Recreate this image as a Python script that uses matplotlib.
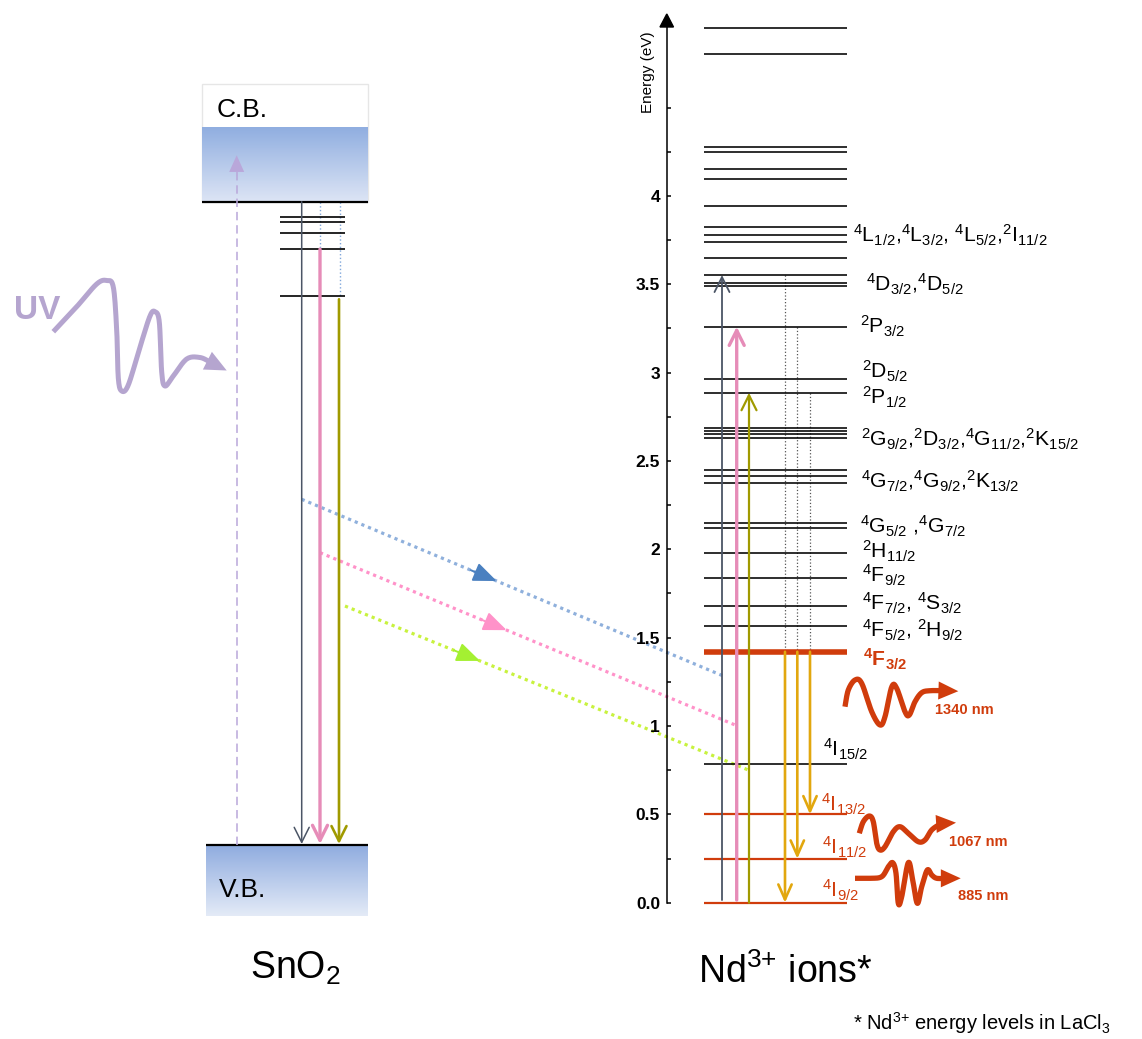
import numpy as np
import matplotlib
matplotlib.use('Agg')
import matplotlib.pyplot as plt
from matplotlib.patches import Rectangle, Polygon
from matplotlib.colors import to_rgb

plt.rcParams['font.family'] = ['Liberation Sans', 'DejaVu Sans']
plt.rcParams['mathtext.fontset'] = 'custom'
plt.rcParams['mathtext.rm'] = 'Liberation Sans'
plt.rcParams['mathtext.it'] = 'Liberation Sans:italic'
plt.rcParams['mathtext.bf'] = 'Liberation Sans:bold'

# ------------------------------------------------------------------ data
# Nd3+ energy levels (eV)
nd_levels = [4.952, 4.801, 4.279, 4.250, 4.154, 4.094, 3.945, 3.826, 3.779,
             3.741, 3.647, 3.552, 3.509, 3.490, 3.260, 2.962, 2.886, 2.688,
             2.671, 2.652, 2.628, 2.450, 2.413, 2.375, 2.147, 2.119, 1.977,
             1.839, 1.681, 1.566, 1.420, 0.787, 0.500, 0.249, 0.000]
nd_metastable = 1.420               # 4F3/2
nd_ground_levels = [0.500, 0.249, 0.000]   # 4I13/2, 4I11/2, 4I9/2
excite_tops = [3.552, 3.260, 2.886]        # excitation targets
excite_bottom = [0.015, 0.015, 0.000]
emit_bottoms = [0.000, 0.249, 0.500]        # emission end levels

nd_labels = [
    r"$^4$L$_{1/2}$,$^4$L$_{3/2}$, $^4$L$_{5/2}$,$^2$I$_{11/2}$",
    r"$^4$D$_{3/2}$,$^4$D$_{5/2}$",
    r"$^2$P$_{3/2}$",
    r"$^2$D$_{5/2}$",
    r"$^2$P$_{1/2}$",
    r"$^2$G$_{9/2}$,$^2$D$_{3/2}$,$^4$G$_{11/2}$,$^2$K$_{15/2}$",
    r"$^4$G$_{7/2}$,$^4$G$_{9/2}$,$^2$K$_{13/2}$",
    r"$^4$G$_{5/2}$ ,$^4$G$_{7/2}$",
    r"$^2$H$_{11/2}$",
    r"$^4$F$_{9/2}$",
    r"$^4$F$_{7/2}$, $^4$S$_{3/2}$",
    r"$^4$F$_{5/2}$, $^2$H$_{9/2}$",
    r"$\mathbf{^4F_{3/2}}$",
    r"$^4$I$_{15/2}$",
    r"$^4$I$_{13/2}$",
    r"$^4$I$_{11/2}$",
    r"$^4$I$_{9/2}$",
]
nd_label_colors = ['k'] * 12 + ['red'] + ['k'] + ['red'] * 3

# SnO2 band scheme (eV, same scale)
sno2_cb = 3.967
sno2_vb = 0.327
sno2_defects = [3.882, 3.854, 3.788, 3.699, 3.435]
uv_top = 4.23

# SnO2 -> Nd3+ energy transfer (start on SnO2, end on Nd3+ excitation arrows)
transfer_start = [2.283, 1.981, 1.679]
transfer_end = [1.279, 1.006, 0.751]

emission_labels = ['1340 nm', '1067 nm', '885 nm']

energy_ticks = [0.0, 0.5, 1.0, 1.5, 2.0, 2.5, 3.0, 3.5, 4.0, 4.5]
energy_tick_labels = ['0.0', '0.5', '1', '1.5', '2', '2.5', '3', '3.5', '4', '']
energy_minor = [0.25, 0.75, 1.25, 1.75, 2.25, 2.75, 3.25, 3.75, 4.25]

# ------------------------------------------------------------------ layout
W, H = 1142, 1039
PX0, PPE = 902.7, 176.7          # pixel row of 0 eV, pixels per eV


def E(ypx):
    return (PX0 - np.asarray(ypx, float)) / PPE


RED = '#d03c0c'
SLATE = '#4b5566'
PINK = '#e68cb8'
OLIVE = '#a09a00'
GOLD = '#e2a70e'
LAV = '#b5a5cf'

fig = plt.figure(figsize=(W / 100, H / 100), dpi=100)
ax = fig.add_axes([0, 0, 1, 1])
ax.set_xlim(0, W)
ax.set_ylim(E(H), E(0))
ax.axis('off')


def vgrad(x0, x1, ybot, ytop, ctop, cbot):
    t = np.linspace(0, 1, 256)[:, None]
    img = (np.array(to_rgb(ctop)) * (1 - t) + np.array(to_rgb(cbot)) * t)[:, None, :]
    ax.imshow(img, extent=(x0, x1, ybot, ytop), aspect='auto', origin='upper',
              zorder=0, interpolation='bilinear')


def varrow(x, y0, y1, color, lw, hl=0.9, hw=0.45, ms=12, z=4):
    ax.annotate('', xy=(x, y1), xytext=(x, y0),
                arrowprops=dict(arrowstyle=f'->,head_length={hl},head_width={hw}',
                                mutation_scale=ms, color=color, lw=lw,
                                shrinkA=0, shrinkB=0), zorder=z)


def smooth(pts, n=14):
    P = np.array(pts, float)
    P = np.vstack([P[0], P, P[-1]])
    out = []
    for i in range(1, len(P) - 2):
        p0, p1, p2, p3 = P[i - 1], P[i], P[i + 1], P[i + 2]
        t = np.linspace(0, 1, n, endpoint=False)[:, None]
        seg = 0.5 * ((2 * p1) + (-p0 + p2) * t + (2 * p0 - 5 * p1 + 4 * p2 - p3) * t ** 2
                     + (-p0 + 3 * p1 - 3 * p2 + p3) * t ** 3)
        out.append(seg)
    out.append(P[-2][None])
    return np.vstack(out)


def wave(pts, tail, tip, color, lw, hl, hw, ms):
    c = smooth(pts)
    ax.plot(c[:, 0], E(c[:, 1]), color=color, lw=lw, solid_capstyle='butt',
            solid_joinstyle='round', zorder=5)
    ax.annotate('', xy=(tip[0], E(tip[1])), xytext=(tail[0], E(tail[1])),
                arrowprops=dict(arrowstyle=f'-|>,head_length={hl},head_width={hw}',
                                mutation_scale=ms, color=color, lw=0,
                                shrinkA=0, shrinkB=0), zorder=5)


# ------------------------------------------------------------------ SnO2 side
CBX0, CBX1 = 202, 368
ax.add_patch(Rectangle((CBX0, sno2_cb), CBX1 - CBX0, E(84) - sno2_cb,
                       fill=False, ec='#e6e6e6', lw=1, zorder=0))
vgrad(CBX0, CBX1, sno2_cb, E(127), '#90aee0', '#dde5f5')
ax.hlines(sno2_cb, CBX0, CBX1, color='k', lw=1.6, zorder=3)
ax.text(217, E(110), 'C.B.', fontsize=19, va='center', ha='left')

VBX0, VBX1 = 206, 368
vgrad(VBX0, VBX1, E(916), sno2_vb, '#8eabdf', '#e4ebf7')
ax.hlines(sno2_vb, VBX0, VBX1, color='k', lw=1.6, zorder=3)
ax.text(219, E(890), 'V.B.', fontsize=19, va='center', ha='left')

ax.hlines(sno2_defects, 280, 345, color='k', lw=1.2, zorder=3)

# UV excitation (dashed)
UVX = 236.7
ax.plot([UVX, UVX], [sno2_vb, uv_top - 0.07], color='#b9a7da', lw=1.1,
        dashes=(5.5, 3.2), zorder=3)
ax.annotate('', xy=(UVX, uv_top), xytext=(UVX, uv_top - 0.075),
            arrowprops=dict(arrowstyle='-|>,head_length=1.0,head_width=0.45',
                            mutation_scale=12, color='#b9a7da', lw=0,
                            shrinkA=0, shrinkB=0), zorder=3)

# dotted link lines from CB to defect levels
ax.plot([320, 320], [sno2_cb, sno2_defects[3]], color='#7fa6db', lw=1, ls=':', zorder=2)
ax.plot([340, 340], [sno2_cb, sno2_defects[4]], color='#7fa6db', lw=1, ls=':', zorder=2)

# SnO2 recombination arrows
left_x = [301.7, 320.0, 339.0]
left_top = [sno2_cb, sno2_defects[3], sno2_defects[4] - 0.02]
left_col = [SLATE, PINK, OLIVE]
left_lw = [1.1, 2.4, 1.9]
for x, t, c, lw in zip(left_x, left_top, left_col, left_lw):
    varrow(x, t, sno2_vb + 0.005, c, lw)

# UV wave
uv_pts = [(53.3, 331.7), (76.7, 306.7), (96.7, 284), (106.7, 280.5), (113.3, 287),
          (116.7, 330), (118.3, 378), (121.7, 391), (128.3, 385), (140, 347),
          (150, 316), (155, 311.7), (159.3, 322), (161.7, 372), (165, 386),
          (173.3, 376), (186.7, 359), (200, 357.5), (210, 362)]
wave(uv_pts, (210, 362), (226.7, 370.5), LAV, 3.6, 1.2, 0.55, 13)
ax.text(14, E(310), 'UV', fontsize=24, fontweight='bold', color=LAV,
        va='center', ha='left')

# ------------------------------------------------------------------ transfer lines
t_x0 = [301.7, 320.0, 345.0]
t_x1 = [725.0, 735.0, 748.3]
t_tip = [496.7, 506.7, 480.0]
t_line_col = ['#8fb0dc', '#ff92c9', '#c8f23e']
t_head_col = ['#4a80c0', '#ff92c9', '#a4f032']
for x0, x1, y0, y1, xt, lc, hc in zip(t_x0, t_x1, transfer_start, transfer_end,
                                      t_tip, t_line_col, t_head_col):
    ax.plot([x0, x1], [y0, y1], color=lc, lw=2.3, linestyle=(0, (1, 1.25)),
            dash_capstyle='butt', zorder=3)
    yt = y0 + (y1 - y0) * (xt - x0) / (x1 - x0)
    xb = xt - 26
    yb = y0 + (y1 - y0) * (xb - x0) / (x1 - x0)
    ax.annotate('', xy=(xt, yt), xytext=(xb, yb),
                arrowprops=dict(arrowstyle='-|>,head_length=1.1,head_width=0.45',
                                mutation_scale=13, color=hc, lw=1.4,
                                shrinkA=0, shrinkB=0), zorder=4)

# ------------------------------------------------------------------ Nd3+ side
NX0, NX1 = 704, 847
for lev in nd_levels:
    if lev == nd_metastable:
        ax.hlines(lev, NX0, NX1, color=RED, lw=4.0, zorder=3)
    elif lev in nd_ground_levels:
        ax.hlines(lev, NX0, NX1, color=RED, lw=1.6, zorder=3)
    else:
        ax.hlines(lev, NX0, NX1, color='k', lw=1.15, zorder=3)

# excitation arrows
ex_x = [722.0, 736.7, 749.0]
ex_col = [SLATE, PINK, OLIVE]
ex_lw = [1.3, 2.4, 1.6]
for x, b, t, c, lw in zip(ex_x, excite_bottom, excite_tops, ex_col, ex_lw):
    varrow(x, b, t, c, lw, hl=0.9, hw=0.45, ms=12)

# non-radiative relaxation (dotted) and emission arrows
em_x = [785.0, 797.3, 810.0]
for x, t, b in zip(em_x, excite_tops, emit_bottoms):
    ax.plot([x, x], [t, nd_metastable], color='#555555', lw=0.9, ls=':', zorder=2)
    varrow(x, nd_metastable, b, GOLD, 1.9, hl=0.9, hw=0.4, ms=12)

# level labels
lab_x = [853, 866, 860, 861.7, 861.7, 860.7, 860.7, 860, 861.7, 862, 862, 862, 862.7,
         822.7, 821, 822, 822]
lab_y = [235, 284, 326, 371, 397, 439, 481, 526, 551, 575, 603, 630, 659,
         749, 804, 847, 890]
for s, x, y, c in zip(nd_labels, lab_x, lab_y, nd_label_colors):
    col = RED if c == 'red' else 'k'
    ax.text(x, E(y + 7.5), s, fontsize=15.2, color=col, ha='left', va='baseline', zorder=6)

# emission waves
w1340 = [(845, 706.7), (848.3, 690), (855, 680), (861.7, 683.3), (871.7, 711.7),
         (880, 725), (885, 716.7), (891.7, 687), (896.7, 688.3), (905, 711.7),
         (909.3, 715), (915, 701.7), (921.7, 692.7), (930, 690.7), (944, 690.7)]
w1067 = [(859.3, 833.3), (863.3, 821.7), (869.3, 816), (873.3, 821.7), (876.7, 843.3),
         (880, 850), (885, 846.7), (893.3, 831.7), (900, 826.7), (908.3, 833.3),
         (918.3, 841.7), (925, 840), (931.7, 830), (940, 824.3), (943.5, 823.5)]
w885 = [(855, 878.3), (870, 878.3), (881.7, 876.7), (888.3, 866.7), (892.7, 862.7),
        (896, 873.3), (898.3, 903.3), (901.7, 896.7), (908.3, 862.7), (912.7, 880),
        (917.3, 903.3), (921.7, 886.7), (927.3, 870), (931.7, 875), (936.7, 878.3),
        (946, 878.3)]
wave(w1340, (944, 690.7), (958.3, 691.2), RED, 3.8, 1.1, 0.5, 13)
wave(w1067, (943.5, 823.5), (956, 822.7), RED, 3.8, 1.1, 0.5, 13)
wave(w885, (946, 878.3), (960.7, 878.3), RED, 3.8, 1.1, 0.5, 13)
wave_lab_x = [935, 949, 958]
wave_lab_y = [710, 841.7, 896]
for s, x, y in zip(emission_labels, wave_lab_x, wave_lab_y):
    ax.text(x, E(y), s, fontsize=10.5, fontweight='bold', color=RED,
            ha='left', va='center', zorder=6)

# ------------------------------------------------------------------ energy axis
axE = fig.add_axes([667 / W, 0, 1e-4, 1])
axE.set_ylim(E(H), E(0))
axE.patch.set_visible(False)
for k in ['right', 'top', 'bottom']:
    axE.spines[k].set_visible(False)
axE.spines['left'].set_bounds(0, float(E(24)))
axE.spines['left'].set_linewidth(1.1)
axE.set_xticks([])
axE.set_yticks(energy_ticks)
axE.set_yticklabels(energy_tick_labels, fontweight='bold')
axE.set_yticks(energy_minor, minor=True)
axE.tick_params(axis='y', which='both', direction='in', length=3.2, width=1.1,
                labelsize=12.5, pad=5)
ax.add_patch(Polygon([(660, float(E(27))), (673.5, float(E(27))), (666.8, float(E(14)))],
                     closed=True, color='k', zorder=6))
ax.text(648, E(72), 'Energy (eV)', fontsize=11, rotation=90, ha='center', va='center')

# ------------------------------------------------------------------ titles
ax.text(250, E(978.5), r'SnO$_2$', fontsize=27, ha='left', va='baseline')
ax.text(698, E(983.3), r'Nd$^{3{+}}$ ions*', fontsize=27, ha='left', va='baseline')
ax.text(853, E(1030), r'* Nd$^{3{+}}$ energy levels in LaCl$_3$', fontsize=14.5,
        ha='left', va='baseline')

fig.savefig('out.png', dpi=100)
